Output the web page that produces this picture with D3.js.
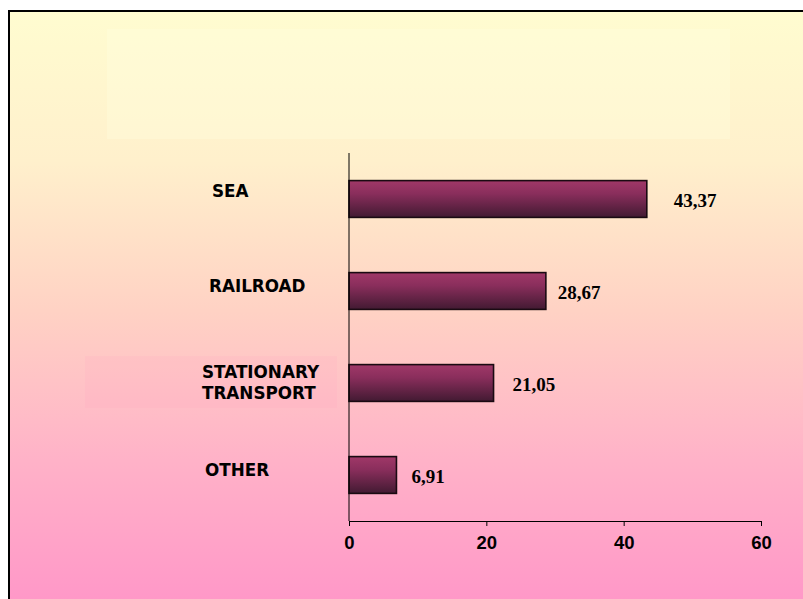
<!DOCTYPE html>
<html>
<head>
<meta charset="utf-8">
<script src="https://cdn.jsdelivr.net/npm/d3@7"></script>
<style>
  html, body { margin: 0; padding: 0; background: #ffffff; }
  svg { display: block; }
</style>
</head>
<body>
<script>
// Share by transport mode
const categories = ["SEA", "RAILROAD", "STATIONARY\nTRANSPORT", "OTHER"];
const values = [43.37, 28.67, 21.05, 6.91];
const valueLabels = ["43,37", "28,67", "21,05", "6,91"];
const tickValues = [0, 20, 40, 60];

const W = 803, H = 599;
const svg = d3.select("body").append("svg").attr("width", W).attr("height", H);
const defs = svg.append("defs");

// slide background: pale yellow fading to pink
const bg = defs.append("linearGradient").attr("id", "bg")
  .attr("x1", 0).attr("y1", 0).attr("x2", 0).attr("y2", 1);
bg.append("stop").attr("offset", "0%").attr("stop-color", "#fffcd0");
bg.append("stop").attr("offset", "25%").attr("stop-color", "#fff0cc");
bg.append("stop").attr("offset", "50%").attr("stop-color", "#ffd2c4");
bg.append("stop").attr("offset", "75%").attr("stop-color", "#ffb2c8");
bg.append("stop").attr("offset", "100%").attr("stop-color", "#ff96c8");

// bar fill: plum, darker toward the bottom
const barGrad = defs.append("linearGradient").attr("id", "barGrad")
  .attr("x1", 0).attr("y1", 0).attr("x2", 0).attr("y2", 1);
barGrad.append("stop").attr("offset", "0%").attr("stop-color", "#a03868");
barGrad.append("stop").attr("offset", "35%").attr("stop-color", "#8a2e5c");
barGrad.append("stop").attr("offset", "100%").attr("stop-color", "#421a32");

svg.append("rect").attr("x", 9).attr("y", 11).attr("width", W).attr("height", H)
  .attr("fill", "url(#bg)").attr("stroke", "#000").attr("stroke-width", 2);

// faint text-box panels
svg.append("rect").attr("x", 107).attr("y", 29).attr("width", 623).attr("height", 110)
  .attr("fill", "#ffffe0").attr("opacity", 0.35);
svg.append("rect").attr("x", 85).attr("y", 356).attr("width", 252).attr("height", 52)
  .attr("fill", "#ff9ec0").attr("opacity", 0.12);

const x = d3.scaleLinear().domain([0, 60]).range([349, 761]);
const y = d3.scaleBand().domain(categories).range([153, 521]).paddingInner(0.6).paddingOuter(0.3);

const g = svg.append("g");

// bars
g.selectAll("rect.bar").data(values).join("rect")
  .attr("class", "bar")
  .attr("x", x(0))
  .attr("y", (d, i) => y(categories[i]))
  .attr("width", d => x(d) - x(0))
  .attr("height", y.bandwidth())
  .attr("fill", "url(#barGrad)")
  .attr("stroke", "#1a0a12").attr("stroke-width", 1.6);

// value labels
const labelGap = [27, 12, 19, 15];
g.selectAll("text.val").data(values).join("text")
  .attr("class", "val")
  .attr("x", (d, i) => x(d) + labelGap[i])
  .attr("y", (d, i) => y(categories[i]) + y.bandwidth() / 2 + 1)
  .attr("dy", "0.35em")
  .attr("font-family", "'Liberation Serif', 'Times New Roman', serif")
  .attr("font-weight", "bold")
  .attr("font-size", 19)
  .attr("fill", "#000")
  .text((d, i) => valueLabels[i]);

// category labels
const catX = [212, 209, 202, 205];
const catDy = [-8, -5, 0, -5];
categories.forEach((c, i) => {
  const lines = c.split("\n");
  const cy = y(c) + y.bandwidth() / 2 + catDy[i];
  const t = g.append("text")
    .attr("font-family", "'DejaVu Sans', Verdana, sans-serif")
    .attr("font-weight", "bold")
    .attr("font-size", 16.8)
    .attr("fill", "#000");
  lines.forEach((ln, k) => {
    t.append("tspan")
      .attr("x", catX[i])
      .attr("y", cy + (k - (lines.length - 1) / 2) * 21)
      .attr("dy", "0.35em")
      .text(ln);
  });
});

// vertical category axis line
g.append("line").attr("x1", x(0)).attr("x2", x(0)).attr("y1", 153).attr("y2", 521)
  .attr("stroke", "#000").attr("stroke-width", 1);

// value axis
const xAxis = d3.axisBottom(x).tickValues(tickValues).tickSize(5).tickPadding(10).tickSizeOuter(0);
const ax = svg.append("g").attr("transform", "translate(0,521)").call(xAxis);
ax.select(".domain").attr("stroke", "#000").attr("stroke-width", 1);
ax.selectAll(".tick line").attr("stroke", "#000");
ax.selectAll(".tick text")
  .attr("font-family", "'Liberation Sans', Arial, sans-serif")
  .attr("font-weight", "bold")
  .attr("font-size", 18.5)
  .attr("fill", "#000");
</script>
</body>
</html>
